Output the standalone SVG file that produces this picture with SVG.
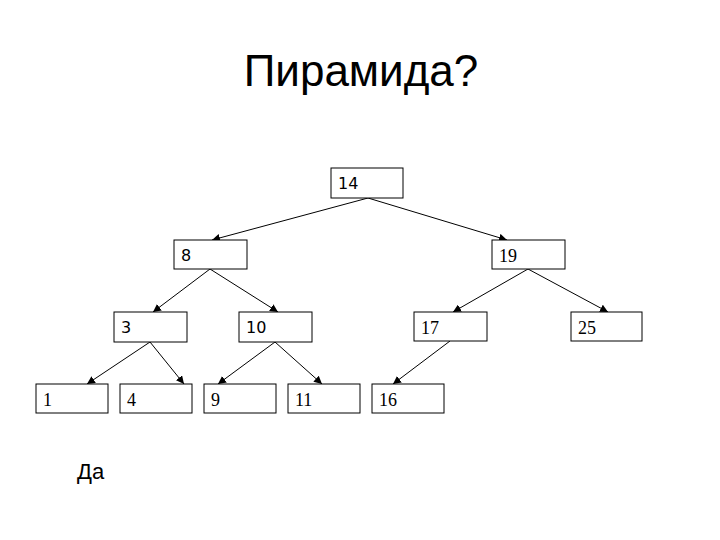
<svg xmlns="http://www.w3.org/2000/svg" width="720" height="540" viewBox="0 0 720 540">
<defs>
<style>
.box{fill:#fff;stroke:#000;stroke-width:1}
.s{font-family:"DejaVu Sans","Liberation Sans",sans-serif;font-size:16px;fill:#000}
.r{font-family:"Liberation Serif","Times New Roman",serif;font-size:18px;fill:#000}
.e{stroke:#000;stroke-width:1;fill:none;marker-end:url(#ah)}
</style>
<marker id="ah" viewBox="0 0 10 10" refX="10" refY="5" markerWidth="8" markerHeight="8" markerUnits="userSpaceOnUse" orient="auto">
<path d="M0,0 L10,5 L0,10 z" fill="#000"/>
</marker>
</defs>
<rect width="720" height="540" fill="#fff"/>
<text x="361" y="86" text-anchor="middle" font-family="Liberation Sans,Arial,sans-serif" font-size="44">Пирамида?</text>
<g id="connectors">
<line class="e" x1="368" y1="198" x2="212" y2="240"/>
<line class="e" x1="368" y1="198" x2="507" y2="240"/>
<line class="e" x1="210" y1="269" x2="153" y2="312"/>
<line class="e" x1="210" y1="269" x2="278" y2="312"/>
<line class="e" x1="528" y1="269" x2="453" y2="312"/>
<line class="e" x1="528" y1="269" x2="608" y2="312"/>
<line class="e" x1="150" y1="342" x2="87" y2="384"/>
<line class="e" x1="150" y1="342" x2="184" y2="384"/>
<line class="e" x1="275" y1="342" x2="218" y2="384"/>
<line class="e" x1="275" y1="342" x2="322" y2="384"/>
<line class="e" x1="450" y1="341" x2="393" y2="384"/>
</g>
<g id="n14"><rect class="box" x="331" y="168" width="72" height="30"/><text class="s" x="338" y="189">14</text></g>
<g id="n8"><rect class="box" x="174" y="240" width="73" height="29"/><text class="s" x="181" y="261">8</text></g>
<g id="n19"><rect class="box" x="492" y="240" width="73" height="29"/><text class="r" x="499" y="262">19</text></g>
<g id="n3"><rect class="box" x="114" y="312" width="73" height="30"/><text class="s" x="121" y="333">3</text></g>
<g id="n10"><rect class="box" x="239" y="312" width="73" height="30"/><text class="s" x="246" y="333">10</text></g>
<g id="n17"><rect class="box" x="414" y="312" width="73" height="29"/><text class="r" x="421" y="334">17</text></g>
<g id="n25"><rect class="box" x="571" y="312" width="71" height="29"/><text class="r" x="578" y="334">25</text></g>
<g id="n1"><rect class="box" x="36" y="384" width="72" height="29"/><text class="r" x="43" y="406">1</text></g>
<g id="n4"><rect class="box" x="120" y="384" width="72" height="29"/><text class="r" x="127" y="406">4</text></g>
<g id="n9"><rect class="box" x="204" y="384" width="72" height="29"/><text class="r" x="211" y="406">9</text></g>
<g id="n11"><rect class="box" x="288" y="384" width="72" height="29"/><text class="r" x="295" y="406">11</text></g>
<g id="n16"><rect class="box" x="372" y="384" width="72" height="29"/><text class="r" x="379" y="406">16</text></g>
<text x="77" y="479" font-family="Liberation Sans,Arial,sans-serif" font-size="22">Да</text>
</svg>
